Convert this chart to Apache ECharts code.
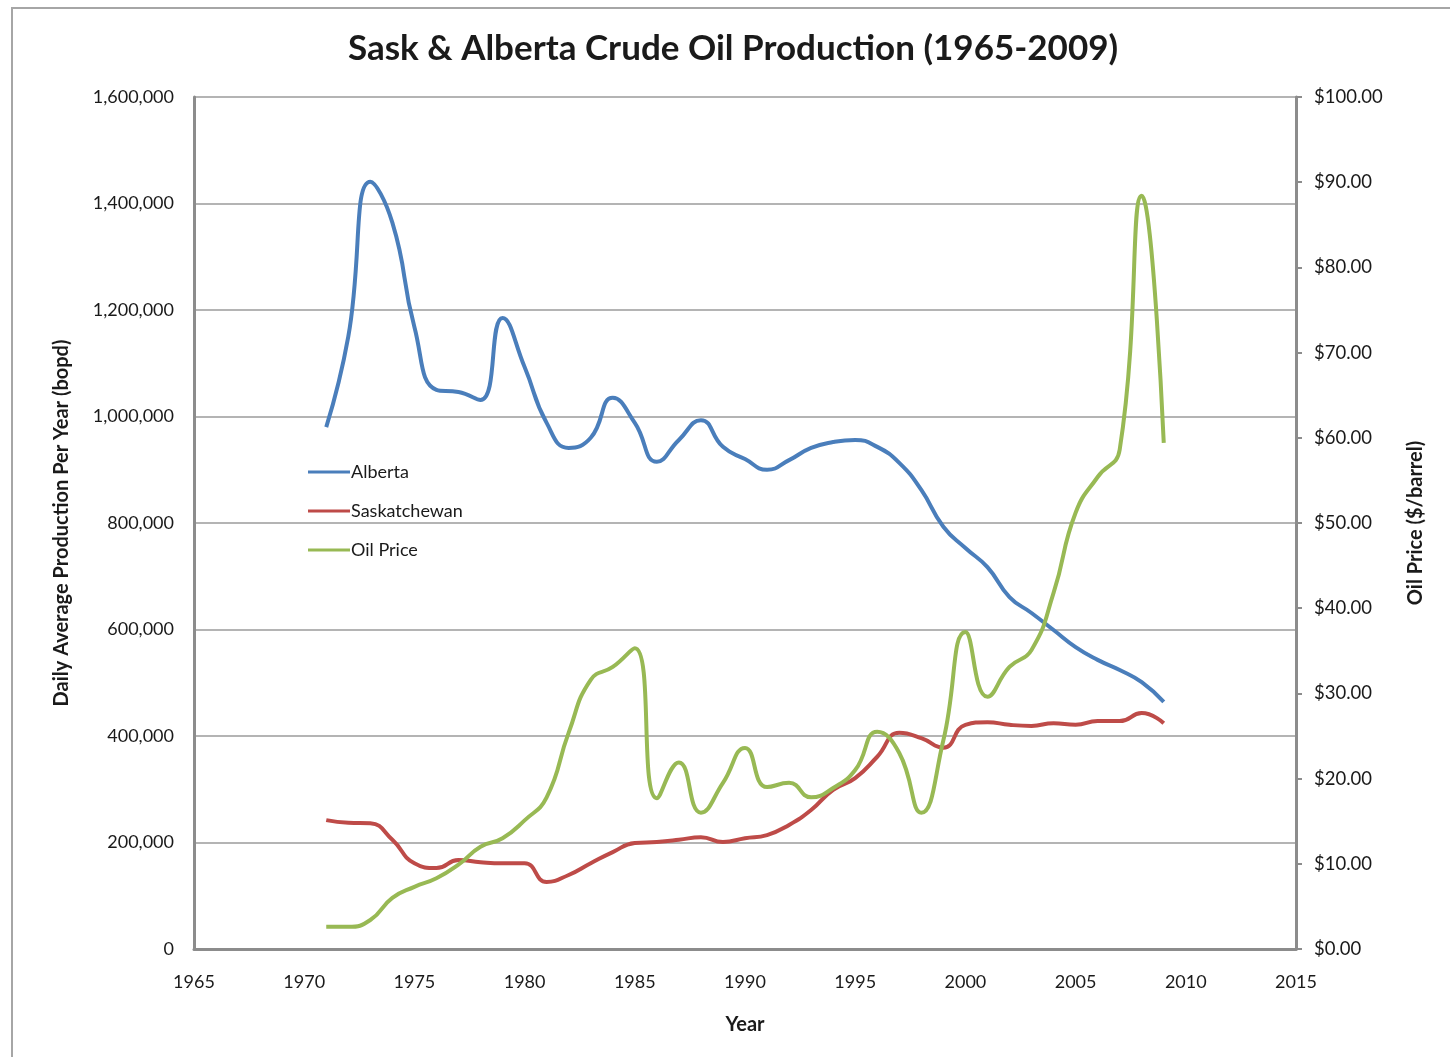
<!DOCTYPE html>
<html>
<head>
<meta charset="utf-8">
<title>Sask & Alberta Crude Oil Production</title>
<script src="https://cdn.jsdelivr.net/npm/echarts@6/dist/echarts.min.js"></script>
<style>
  html, body { margin: 0; padding: 0; background: #fff; }
  #frame {
    position: absolute; left: 11px; top: 7px; right: -10px; bottom: -10px;
    border-left: 2px solid #a6a6a6; border-top: 2px solid #a6a6a6;
  }
  #chart { position: absolute; left: 0; top: 0; width: 1450px; height: 1057px; }
</style>
</head>
<body>
<div id="frame"></div>
<div id="chart"></div>
<script>
// years on the x axis
const years = [1971, 1972, 1973, 1974, 1975, 1976, 1977, 1978, 1979, 1980,
  1981, 1982, 1983, 1984, 1985, 1986, 1987, 1988, 1989, 1990,
  1991, 1992, 1993, 1994, 1995, 1996, 1997, 1998, 1999, 2000,
  2001, 2002, 2003, 2004, 2005, 2006, 2007, 2008, 2009];

// daily average production, bopd
const alberta = [980000, 1150000, 1441000, 1364000, 1168000, 1050000, 1046000, 1031000, 1185000, 1093000,
  988000, 941000, 960000, 1035000, 988000, 915000, 956000, 993000, 943000, 920000,
  900000, 918000, 941000, 952000, 956000, 943000, 913000, 862000, 793000, 753000,
  717000, 661000, 631000, 599000, 567000, 543000, 524000, 501000, 464000];

const saskatchewan = [242000, 237000, 236000, 205000, 161000, 152000, 167000, 163000, 161000, 161000,
  126000, 139000, 161000, 182000, 199000, 201000, 205000, 210000, 201000, 208000,
  214000, 233000, 261000, 299000, 321000, 361000, 406000, 396000, 378000, 421000,
  426000, 421000, 419000, 424000, 421000, 428000, 428000, 443000, 424000];

// oil price, $/barrel
const oilPrice = [2.6, 2.6, 3.4, 6.0, 7.3, 8.3, 9.9, 12.0, 13.0, 15.1,
  17.8, 25.4, 31.6, 33.1, 35.3, 17.7, 21.9, 16.0, 19.5, 23.6,
  19.0, 19.5, 17.8, 18.9, 21.0, 25.5, 23.0, 16.0, 24.5, 37.2,
  29.6, 33.1, 35.1, 41.8, 51.2, 55.4, 58.6, 88.4, 59.4];

const pairs = (vals) => years.map((y, i) => [y, vals[i]]);

const chart = echarts.init(document.getElementById('chart'));
const font = 'Lato, "Open Sans", sans-serif';
const textColor = '#1a1a1a';

chart.setOption({
  animation: false,
  textStyle: { fontFamily: font },
  title: {
    text: 'Sask & Alberta Crude Oil Production (1965-2009)',
    left: 343,
    top: 26,
    textStyle: { fontSize: 35, fontWeight: 'bold', color: textColor, fontFamily: font }
  },
  legend: {
    orient: 'vertical',
    left: 303,
    top: 458,
    itemWidth: 42,
    itemHeight: 3,
    itemGap: 21,
    icon: 'rect',
    textStyle: { fontSize: 18, color: textColor, padding: [0, 0, 0, -4] },
    data: ['Alberta', 'Saskatchewan', 'Oil Price']
  },
  grid: { left: 194, right: 154, top: 97, bottom: 108 },
  xAxis: {
    type: 'value',
    min: 1965, max: 2015, interval: 5,
    name: 'Year',
    nameLocation: 'middle',
    nameGap: 66,
    nameTextStyle: { fontSize: 20, fontWeight: 'bold', color: textColor },
    axisLine: { lineStyle: { color: '#8c8c8c', width: 3 } },
    axisTick: { show: false },
    splitLine: { show: false },
    axisLabel: { fontSize: 18, color: textColor, margin: 24, formatter: (v) => String(v) }
  },
  yAxis: [
    {
      type: 'value',
      min: 0, max: 1600000, interval: 200000,
      name: 'Daily Average Production Per Year (bopd)',
      nameLocation: 'middle',
      nameGap: 122,
      nameTextStyle: { fontSize: 20, fontWeight: 'bold', color: textColor },
      axisLine: { show: true, lineStyle: { color: '#8c8c8c', width: 3 } },
      axisTick: { show: false },
      splitLine: { lineStyle: { color: '#b4b4b4', width: 2 } },
      axisLabel: {
        fontSize: 18, color: textColor, margin: 20,
        formatter: (v) => v.toLocaleString('en-US')
      }
    },
    {
      type: 'value',
      min: 0, max: 100, interval: 10,
      position: 'right',
      name: 'Oil Price ($/barrel)',
      nameLocation: 'middle',
      nameRotate: 90,
      nameGap: 110,
      nameTextStyle: { fontSize: 20, fontWeight: 'bold', color: textColor },
      axisLine: { show: true, lineStyle: { color: '#8c8c8c', width: 3 } },
      axisTick: { show: true, length: 6, lineStyle: { color: '#8c8c8c', width: 2 } },
      splitLine: { show: false },
      axisLabel: {
        fontSize: 18.5, color: textColor, margin: 18,
        formatter: (v) => '$' + v.toFixed(2)
      }
    }
  ],
  series: [
    {
      name: 'Alberta', type: 'line', yAxisIndex: 0,
      data: pairs(alberta), smooth: 0.5, showSymbol: false,
      color: '#4a7ebb', lineStyle: { width: 4, color: '#4a7ebb' }
    },
    {
      name: 'Saskatchewan', type: 'line', yAxisIndex: 0,
      data: pairs(saskatchewan), smooth: 0.5, showSymbol: false,
      color: '#be4b48', lineStyle: { width: 4, color: '#be4b48' }
    },
    {
      name: 'Oil Price', type: 'line', yAxisIndex: 1,
      data: pairs(oilPrice), smooth: 0.5, showSymbol: false,
      color: '#98b954', lineStyle: { width: 4, color: '#98b954' }
    }
  ]
});
</script>
</body>
</html>
